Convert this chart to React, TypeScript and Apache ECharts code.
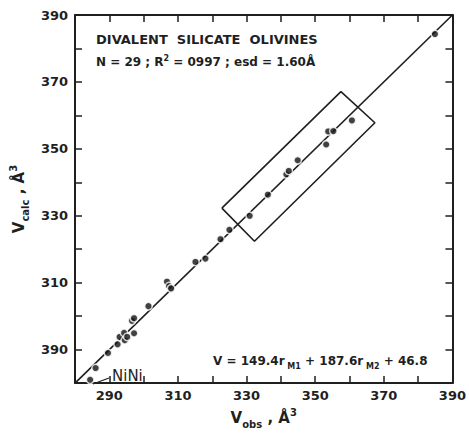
import React, { useEffect, useRef } from "react";
import * as echarts from "echarts";

const vObs = [284.4, 286.0, 289.6, 292.4, 293.0, 294.5, 294.3, 295.2, 297.2, 296.6, 297.2, 301.4, 306.8, 307.4, 308.0, 315.1, 318.0, 322.4, 325.0, 330.9, 336.2, 341.6, 342.3, 344.9, 353.2, 353.8, 355.3, 360.7, 384.9];
const vCalc = [281.0, 284.5, 289.0, 291.6, 293.8, 292.8, 295.0, 293.8, 294.9, 298.6, 299.4, 303.0, 310.3, 309.0, 308.3, 316.2, 317.2, 323.0, 325.8, 330.0, 336.3, 342.4, 343.4, 346.6, 351.3, 355.2, 355.3, 358.5, 384.3];
const fitLine = [[280, 280], [390, 390]];
const boxX = [322.8, 357.5, 367.4, 332.3, 322.8];
const boxY = [332.3, 367.1, 357.8, 322.4, 332.3];
const xTickValues = [290, 310, 330, 350, 370, 390];
const xTickLabels = ["290", "310", "330", "350", "370", "390"];
const yTickValues = [290, 310, 330, 350, 370, 390];
const yTickLabels = ["390", "310", "330", "350", "370", "390"];

const INK = "#1f1f1f";
const FONT = "DejaVu Sans";

export default function App() {
  const ref = useRef<HTMLDivElement>(null);
  useEffect(() => {
    if (!ref.current) return;
    const chart = echarts.init(ref.current, null, { renderer: "svg" });
    const fmt = (vals: number[], labels: string[]) => (v: number) => {
      const i = vals.indexOf(Math.round(v));
      return i >= 0 ? labels[i] : "";
    };
    const axisCommon = {
      type: "value" as const,
      min: 280,
      max: 390,
      interval: 10,
      splitLine: { show: false },
      axisLine: { show: true, onZero: false, lineStyle: { color: INK, width: 2 } },
      axisTick: { show: true, inside: true, length: 7, lineStyle: { color: INK, width: 1.5 } },
    };
    const labelStyle = { color: INK, fontFamily: FONT, fontWeight: "bold" as const, fontSize: 13 };
    const rich = {
      m: { fontFamily: FONT, fontWeight: "bold", fontSize: 15, color: INK, lineHeight: 22, verticalAlign: "middle" },
      sub: { fontFamily: FONT, fontWeight: "bold", fontSize: 10, color: INK, lineHeight: 10, verticalAlign: "bottom" },
      sup: { fontFamily: FONT, fontWeight: "bold", fontSize: 10, color: INK, lineHeight: 10, verticalAlign: "top" },
    };
    const option: any = {
      animation: false,
      grid: { left: 75, right: 14, top: 15, bottom: 43 },
      xAxis: [
        {
          ...axisCommon,
          position: "bottom",
          axisLabel: { ...labelStyle, margin: 6, formatter: fmt(xTickValues, xTickLabels) },
          name: "{m|V}{sub|obs}{m| , Å}{sup|3}",
          nameLocation: "middle",
          nameGap: 22,
          nameTextStyle: { rich },
        },
        { ...axisCommon, position: "top", axisLabel: { show: false } },
      ],
      yAxis: [
        {
          ...axisCommon,
          position: "left",
          axisLabel: { ...labelStyle, margin: 7, formatter: fmt(yTickValues, yTickLabels) },
          name: "{m|V}{sub|calc}{m| , Å}{sup|3}",
          nameLocation: "middle",
          nameGap: 40,
          nameTextStyle: { rich },
        },
        { ...axisCommon, position: "right", axisLabel: { show: false } },
      ],
      series: [
        {
          type: "line",
          data: fitLine,
          symbol: "none",
          lineStyle: { color: INK, width: 1.6 },
          z: 1,
        },
        {
          type: "line",
          data: boxX.map((x, i) => [x, boxY[i]]),
          symbol: "none",
          lineStyle: { color: INK, width: 1.6 },
          z: 1,
        },
        {
          type: "scatter",
          data: vObs.map((x, i) => [x, vCalc[i]]),
          symbolSize: 7.5,
          itemStyle: { color: "#111111", borderColor: "#ffffff", borderWidth: 1.5 },
          z: 3,
        },
      ],
      graphic: [
        {
          type: "text",
          left: 96,
          top: 33,
          style: { text: "DIVALENT  SILICATE  OLIVINES", fontFamily: FONT, fontWeight: "bold", fontSize: 13, fill: INK },
        },
        {
          type: "text",
          left: 96,
          top: 54,
          style: {
            text: "{a|N = 29 ; R}{s|2}{a| = 0997 ; esd = 1.60Å}",
            rich: {
              a: { fontFamily: FONT, fontWeight: "bold", fontSize: 12, fill: INK, lineHeight: 16, verticalAlign: "middle" },
              s: { fontFamily: FONT, fontWeight: "bold", fontSize: 8, fill: INK, lineHeight: 8, verticalAlign: "top" },
            },
          },
        },
        {
          type: "text",
          left: 213,
          top: 355,
          style: {
            text: "{a|V = 149.4r}{s| M1}{a| + 187.6r}{s| M2}{a| + 46.8}",
            rich: {
              a: { fontFamily: FONT, fontWeight: "bold", fontSize: 12, fill: INK, lineHeight: 18, verticalAlign: "middle" },
              s: { fontFamily: FONT, fontWeight: "bold", fontSize: 8, fill: INK, lineHeight: 8, verticalAlign: "bottom" },
            },
          },
        },
        {
          type: "text",
          left: 112,
          top: 368,
          style: { text: "NiNi", fontFamily: FONT, fontSize: 15, fill: INK },
        },
        {
          type: "line",
          shape: { x1: 93, y1: 384, x2: 109, y2: 378 },
          style: { stroke: INK, lineWidth: 1.3 },
        },
      ],
    };
    chart.setOption(option);
    return () => chart.dispose();
  }, []);
  return <div ref={ref} style={{ position: "fixed", left: 0, top: 0, width: 469, height: 434, background: "#fff" }} />;
}
